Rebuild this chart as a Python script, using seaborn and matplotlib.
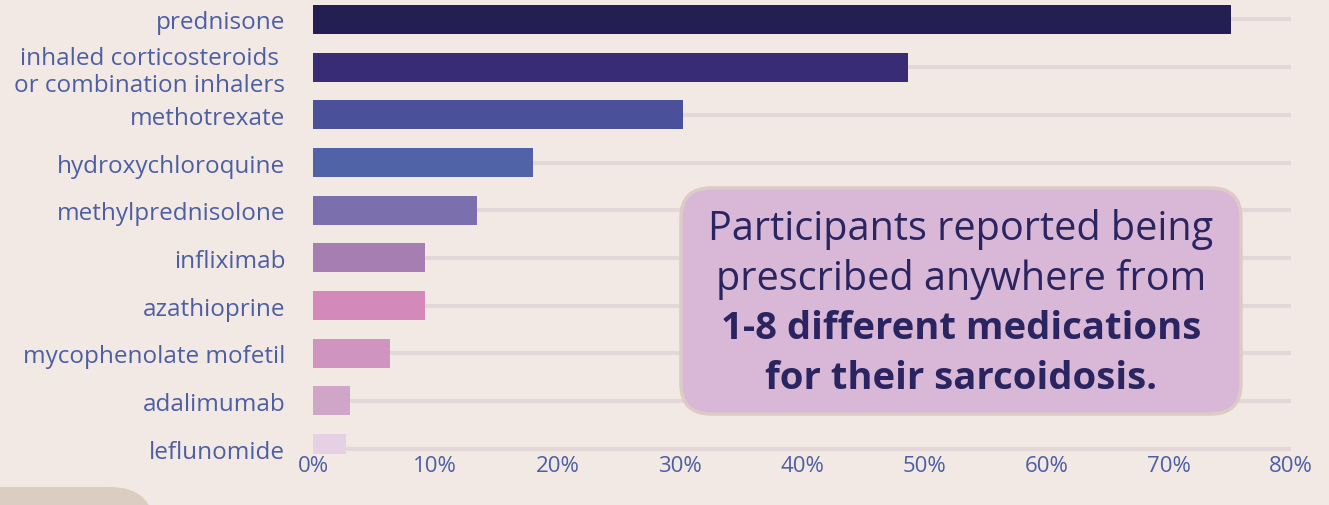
import matplotlib
matplotlib.use("Agg")
import matplotlib.pyplot as plt
import seaborn as sns
import pandas as pd
from matplotlib.patches import FancyBboxPatch
from matplotlib.transforms import IdentityTransform
from matplotlib.ticker import PercentFormatter

categories = ["prednisone", "inhaled corticosteroids \nor combination inhalers", "methotrexate",
              "hydroxychloroquine", "methylprednisolone", "infliximab", "azathioprine",
              "mycophenolate mofetil", "adalimumab", "leflunomide"]
values = [75.1, 48.7, 30.3, 18.0, 13.4, 9.2, 9.2, 6.3, 3.0, 2.7]
bar_colors = ["#231f52", "#382c75", "#4a5099", "#4f63a6", "#7b6fad",
              "#a67eb1", "#d38aba", "#cf94bf", "#d0a6c8", "#e6d0e3"]
tick_values = [0, 10, 20, 30, 40, 50, 60, 70, 80]

BG = "#f2e9e4"
LABEL = "#4d5fa3"
DARK = "#2a2560"

sns.set_theme(style="white")
plt.rcParams["font.family"] = ["Open Sans", "DejaVu Sans"]

df = pd.DataFrame({"med": categories, "pct": values})

W, H = 1329, 506
fig = plt.figure(figsize=(W / 100, H / 100), dpi=100, facecolor=BG)
ax = fig.add_axes([313 / W, (H - 455) / H, (1291 - 313) / W, 455 / H])
ax.set_facecolor(BG)

ax.hlines(range(len(categories)), 0, 80, colors="#e3d8d7", linewidth=2.9, zorder=0)
sns.barplot(data=df, x="pct", y="med", hue="med", palette=bar_colors, legend=False,
            width=0.61, saturation=1, linewidth=0, ax=ax, zorder=2)

ax.set_xlim(0, 80)
ax.set_ylim(9.115, -0.43)
ax.set_xticks(tick_values)
ax.xaxis.set_major_formatter(PercentFormatter(decimals=0))
ax.set_xlabel("")
ax.set_ylabel("")
for s in ax.spines.values():
    s.set_visible(False)
ax.tick_params(axis="y", length=0, pad=20, labelsize=17.5, labelcolor=LABEL)
ax.tick_params(axis="x", length=0, pad=1, labelsize=16, labelcolor=LABEL)
for t in ax.get_yticklabels():
    t.set_linespacing(1.15)

ident = IdentityTransform()
# annotation box (pixel coordinates, origin bottom-left)
box = FancyBboxPatch((681, H - 415), 1241 - 681, 415 - 189,
                     boxstyle="round,pad=0,rounding_size=30", transform=ident,
                     facecolor="#d9b7d6", edgecolor="#dccbc6", linewidth=2.5, zorder=5)
fig.patches.append(box)
lines = [("Participants reported being", "normal", 28.5, 229),
         ("prescribed anywhere from", "normal", 28.5, 279),
         ("1-8 different medications", "bold", 27.5, 329),
         ("for their sarcoidosis.", "bold", 27.5, 379)]
for txt, wt, fs, yy in lines:
    fig.text(961 / W, (H - yy) / H, txt, ha="center", va="center", fontsize=fs,
             fontweight=wt, color=DARK, zorder=6)

# decorative corner shape
corner = FancyBboxPatch((-60, -60), 215, 60 + (H - 488),
                        boxstyle="round,pad=0,rounding_size=45", transform=ident,
                        facecolor="#dccdc2", edgecolor="none", zorder=1)
fig.patches.append(corner)

fig.savefig("out.png", dpi=100, facecolor=BG)
